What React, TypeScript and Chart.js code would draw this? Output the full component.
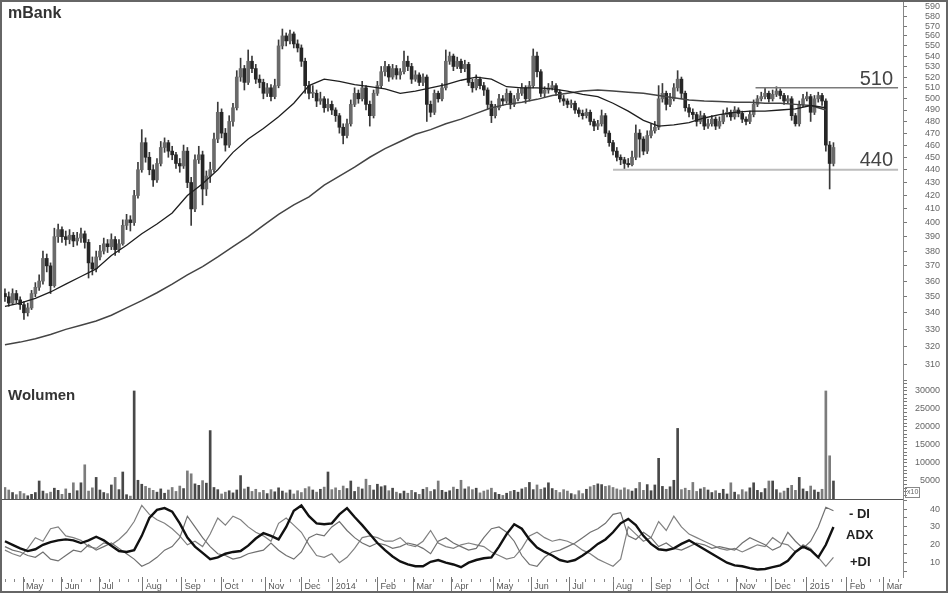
import React, { useEffect, useRef } from "react";
import { Chart, registerables } from "chart.js";

Chart.register(...registerables);

const FONT = '"Liberation Sans", Arial, Helvetica, sans-serif';
const TITLE = "mBank";
const VOLUME_TITLE = "Wolumen";

// daily index axis (trading days from late April 2013)
const X_MIN = -0.5;
const X_MAX = 472.6;
const BAR_STEP = 2; // one bar per two sessions
const MA_STEP = 8;
const DI_STEP = 4;

const monthTickIdx = [9.5, 30, 49.5, 72.5, 93, 114, 137, 156, 172.5, 196, 215, 235, 257, 277, 297, 320, 340.5, 361.5, 385, 403.5, 422, 443, 462.5];
const monthLabels = ["May", "Jun", "Jul", "Aug", "Sep", "Oct", "Nov", "Dec", "2014", "Feb", "Mar", "Apr", "May", "Jun", "Jul", "Aug", "Sep", "Oct", "Nov", "Dec", "2015", "Feb", "Mar"];

const priceTicks = [310, 320, 330, 340, 350, 360, 370, 380, 390, 400, 410, 420, 430, 440, 450, 460, 470, 480, 490, 500, 510, 520, 530, 540, 550, 560, 570, 580, 590];
const volumeTickLabels = [5000, 10000, 15000, 20000, 25000, 30000];
const diTickLabels = [10, 20, 30, 40];

const opens = [
  352, 350, 346, 352, 348, 345, 340, 343, 352, 356, 360, 375, 370, 357, 390, 395, 390, 388, 391, 387,
  389, 392, 386, 372, 368, 376, 380, 385, 383, 388, 381, 385, 398, 402, 400, 420, 440, 462, 450, 440,
  432, 445, 458, 462, 455, 452, 445, 443, 455, 430, 410, 448, 452, 425, 435, 440, 465, 488, 470, 460,
  480, 492, 520, 528, 515, 535, 528, 518, 515, 505, 510, 502, 512, 550, 560, 555, 562, 552, 548, 535,
  512, 505, 505, 498, 500, 492, 495, 490, 485, 475, 468, 478, 495, 505, 500, 510, 495, 485, 505, 512,
  525, 530, 520, 528, 522, 525, 535, 530, 518, 522, 515, 520, 495, 488, 505, 500, 510, 535, 540, 530,
  535, 528, 532, 515, 510, 518, 512, 508, 495, 485, 492, 500, 498, 505, 495, 500, 505, 510, 500, 512,
  540, 525, 505, 508, 510, 512, 506, 500, 498, 495, 496, 490, 487, 485, 488, 480, 476, 478, 485, 470,
  462, 455, 450, 448, 445, 444, 450, 470, 465, 455, 468, 472, 475, 500, 505, 495, 500, 510, 518, 505,
  492, 488, 486, 480, 485, 476, 478, 482, 476, 480, 486, 488, 484, 490, 487, 482, 480, 486, 495, 500,
  502, 505, 500, 504, 507, 503, 498, 500, 485, 478, 495, 500, 502, 488, 500, 503, 498, 460, 445,
];
const highs = [
  355, 353, 355, 354, 350, 347, 346, 354, 359, 364, 380, 378, 372, 396, 399, 397, 394, 395, 393, 393,
  396, 394, 388, 376, 380, 384, 389, 388, 392, 390, 388, 402, 406, 405, 424, 446, 473, 466, 454, 444,
  449, 463, 466, 464, 459, 454, 449, 460, 458, 434, 452, 459, 455, 439, 446, 470, 497, 491, 474, 485,
  496, 526, 538, 531, 546, 540, 532, 522, 518, 514, 513, 518, 556, 567, 563, 566, 564, 556, 551, 538,
  516, 512, 508, 506, 502, 500, 498, 492, 487, 478, 482, 499, 510, 508, 516, 512, 498, 508, 516, 530,
  535, 532, 532, 531, 528, 545, 540, 533, 526, 524, 523, 522, 498, 508, 507, 514, 546, 544, 542, 539,
  537, 536, 534, 518, 522, 520, 515, 510, 498, 495, 504, 503, 509, 507, 503, 509, 514, 512, 516, 547,
  544, 527, 511, 514, 516, 514, 508, 503, 500, 499, 498, 492, 490, 491, 490, 482, 481, 490, 487, 472,
  464, 458, 452, 450, 449, 455, 477, 473, 467, 472, 478, 480, 512, 514, 507, 505, 514, 526, 520, 507,
  495, 491, 488, 489, 487, 482, 485, 484, 484, 490, 492, 490, 493, 492, 489, 484, 489, 499, 503, 506,
  510, 507, 508, 511, 509, 505, 503, 502, 487, 498, 504, 506, 504, 503, 506, 505, 500, 463, 462,
];
const lows = [
  347, 344, 345, 346, 342, 336, 338, 342, 350, 354, 358, 366, 352, 356, 386, 386, 384, 385, 383, 384,
  386, 382, 362, 364, 366, 374, 378, 379, 381, 377, 379, 384, 395, 394, 398, 418, 438, 446, 436, 427,
  430, 443, 454, 450, 448, 441, 438, 441, 426, 398, 408, 445, 413, 420, 430, 438, 462, 466, 455, 458,
  476, 490, 516, 508, 513, 524, 514, 510, 500, 502, 498, 500, 510, 547, 550, 552, 548, 544, 530, 505,
  500, 501, 493, 495, 488, 489, 486, 480, 470, 461, 466, 476, 493, 496, 498, 490, 476, 483, 503, 510,
  521, 516, 518, 518, 518, 523, 526, 514, 516, 512, 512, 480, 484, 486, 497, 498, 508, 532, 526, 528,
  524, 525, 512, 506, 508, 509, 503, 491, 479, 483, 490, 494, 496, 491, 493, 498, 503, 496, 498, 510,
  520, 502, 501, 505, 508, 503, 497, 494, 492, 492, 487, 484, 482, 483, 477, 472, 473, 476, 467, 459,
  452, 447, 444, 441, 442, 443, 448, 450, 452, 453, 466, 470, 473, 497, 490, 493, 498, 507, 500, 489,
  484, 482, 476, 478, 473, 474, 476, 473, 474, 478, 484, 481, 482, 484, 479, 477, 478, 484, 493, 498,
  500, 497, 498, 502, 500, 495, 496, 481, 476, 476, 493, 498, 480, 486, 497, 494, 455, 425, 443,
];
const closes = [
  350, 346, 352, 348, 345, 340, 343, 352, 356, 360, 375, 370, 357, 390, 395, 390, 388, 391, 387, 389,
  392, 386, 372, 368, 376, 380, 385, 383, 388, 381, 385, 398, 402, 400, 420, 440, 462, 450, 440, 432,
  445, 458, 462, 455, 452, 445, 443, 455, 430, 410, 448, 452, 425, 435, 440, 465, 488, 470, 460, 480,
  492, 520, 528, 515, 535, 528, 518, 515, 505, 510, 502, 512, 550, 560, 555, 562, 552, 548, 535, 512,
  505, 505, 498, 500, 492, 495, 490, 485, 475, 468, 478, 495, 505, 500, 510, 495, 485, 505, 512, 525,
  530, 520, 528, 522, 525, 535, 530, 518, 522, 515, 520, 495, 488, 505, 500, 510, 535, 540, 530, 535,
  528, 532, 515, 510, 518, 512, 508, 495, 485, 492, 500, 498, 505, 495, 500, 505, 510, 500, 512, 540,
  525, 505, 508, 510, 512, 506, 500, 498, 495, 496, 490, 487, 485, 488, 480, 476, 478, 485, 470, 462,
  455, 450, 448, 445, 444, 450, 470, 465, 455, 468, 472, 475, 500, 505, 495, 500, 510, 518, 505, 492,
  488, 486, 480, 485, 476, 478, 482, 476, 480, 486, 488, 484, 490, 487, 482, 480, 486, 495, 500, 502,
  505, 500, 504, 507, 503, 498, 500, 485, 478, 495, 500, 502, 488, 500, 503, 498, 460, 445, 458,
];

const volumes = [
  3200, 2500, 1800, 1200, 2100, 1500, 900, 1300, 1800, 5000,
  2200, 1500, 1900, 3000, 2400, 1300, 2800, 1600, 4500, 2300,
  4500, 9500, 2200, 3100, 6000, 2500, 1800, 1500, 3900, 6000,
  2600, 7500, 1200, 800, 30000, 5200, 4100, 3500, 3000, 2400,
  1900, 2800, 1600, 2500, 3200, 2100, 3600, 2900, 7800, 7000,
  4200, 3800, 5100, 4400, 19000, 3200, 2600, 1400, 1900, 2300,
  1700, 2500, 6500, 2800, 3300, 2100, 2700, 1800, 2400, 1500,
  2600, 2000, 3100, 2200, 1700, 2500, 1400, 2300, 1800, 2900,
  3400, 2500, 1900, 2700, 3300, 7500, 2600, 3100, 2400, 3600,
  2900, 5000, 2100, 3300, 2800, 5500, 3800, 2500, 4100, 3400,
  3700, 2300, 3000, 1900, 1500, 2200, 1600, 2400, 1800, 1300,
  2700, 3200, 2100, 2600, 5000, 2400, 1900, 2300, 3300, 2700,
  5200, 2800, 3400, 2600, 3000, 1700, 2200, 2500, 3000, 1800,
  1300, 1000, 1600, 2100, 2400, 1900, 2800, 3200, 4600, 2600,
  3900, 2700, 3100, 4500, 2900, 2400, 1800, 2600, 2200, 1500,
  1200, 2300, 1500, 2700, 3400, 3800, 4200, 4000, 3500, 3700,
  3200, 2800, 2500, 3100, 2600, 2200, 2900, 4600, 2400, 4000,
  2300, 3900, 11300, 3500, 2700, 3400, 5200, 19600, 2600, 3000,
  2400, 4600, 2100, 2800, 3200, 2500, 1800, 2300, 1600, 2700,
  1400, 4500, 1900, 1200, 2600, 2000, 3100, 4500, 2400, 1800,
  2900, 5000, 5000, 2600, 1700, 2200, 3000, 3800, 2400, 6000,
  2800, 2100, 3600, 2500, 1900, 2700, 30000, 12000, 5000,
];

const ma50 = [
  344, 346, 349, 353, 358, 363, 368, 377, 384, 392, 399, 407, 420, 429, 440, 454, 465, 474, 484, 496,
  512, 518, 516, 513, 511, 509, 505, 507, 510, 513, 517, 520, 518, 511, 510, 510, 509, 507, 504, 502,
  496, 489, 481, 476, 477, 479, 483, 486, 488, 489, 489, 490, 491, 494, 492,
];
const ma200 = [
  321, 322.5, 324.5, 327, 330, 332.5, 335, 338.5, 343, 347.5, 352.5, 358, 364, 369.5, 376, 383, 390, 398, 406, 413,
  419, 428, 435, 442, 450, 457, 463, 469, 473, 478, 482, 487, 492, 495, 497, 499.5, 503, 505, 507, 508,
  507, 506, 505, 503, 501, 499, 498, 497.5, 497, 497, 496, 496, 495, 494, 490,
];

const adx = [
  22, 20, 18, 16.5, 17.5, 20, 21.5, 22.5, 23, 22.5,
  21, 22.5, 24.5, 22.5, 19.5, 16.5, 16, 17, 25, 35,
  39.5, 40.5, 38.5, 32, 24, 19, 15.5, 12, 13, 15,
  16, 16.5, 19.5, 23.5, 26.5, 25, 23, 30, 39, 42,
  36, 32, 31.5, 32, 37, 40.5, 35.5, 31, 26, 21,
  17, 13.5, 10.7, 9, 8, 8, 10.5, 11.5, 10, 9,
  7.5, 10, 11.5, 12.5, 13, 19, 26, 31.5, 29, 23,
  18.5, 16, 14, 11.5, 10.5, 11.5, 14, 17, 20.5, 23,
  27, 32, 34.5, 31, 25, 20.5, 17.5, 17, 18, 20.5,
  22.5, 20, 17.5, 15, 12.5, 10, 8.5, 8, 7, 6.2,
  6.5, 7.5, 8.5, 11, 16, 19, 17, 13, 20, 30,
];
const plusDI = [
  17, 15, 13.5, 18, 24, 22, 29, 30, 25, 24,
  22.5, 19, 18, 21, 20, 23, 27, 33, 42, 37,
  34, 32, 29, 25, 20, 22, 19, 26, 35, 31,
  36, 34, 30, 27, 25, 22, 32, 35, 31, 27,
  20, 14, 13, 15, 10, 13, 18, 24, 25, 24,
  22, 22, 24, 20, 19, 22, 28, 21, 19, 18,
  20, 21, 20, 19, 16, 14, 12, 13, 18, 25,
  27, 24, 22, 23, 22, 20, 17, 15, 12, 10,
  8, 12, 30, 26, 22, 24, 33, 28, 36, 30,
  26, 24, 22, 20, 18, 17, 18, 16, 18, 20,
  19, 24, 21, 20, 16, 20, 18, 13, 8, 13,
];
const minusDI = [
  19, 17, 16, 14, 13, 16, 12, 11, 14, 17,
  16, 20, 17, 19, 21, 18, 15, 12, 8, 10,
  13, 17, 19, 24, 36, 30, 24, 19, 15, 14,
  12, 13, 15, 16, 17, 21, 17, 14, 12, 16,
  24, 26, 25, 30, 33, 28, 24, 21, 19, 21,
  20, 18, 19, 21, 20, 18, 15, 22, 24, 21,
  19, 17, 18, 24, 29, 30, 27, 22, 14, 9,
  8, 13, 16, 17, 19, 21, 24, 27, 29, 32,
  37, 38, 25, 23, 27, 24, 19, 21, 18, 17,
  19, 21, 20, 18, 19, 18, 17, 21, 24, 22,
  20, 17, 19, 27, 22, 18, 22, 30, 41, 39,
];

const resistance = 510;
const support = 440;
const resistanceFrom = 395;
const supportFrom = 320;
const levelsTo = 470;

const AXIS_W = 37;
const PAD_RIGHT = 8;

function xAxis(display: boolean): any {
  return { type: "linear", min: X_MIN, max: X_MAX, display, offset: false, grid: { display: false } };
}

function rightAxis(extra: any): any {
  return {
    position: "right",
    bounds: "data",
    afterFit: (s: any) => {
      s.width = AXIS_W;
      s.paddingTop = 0;
      s.paddingBottom = 0;
    },
    grid: { drawOnChartArea: false, drawTicks: true, tickLength: 4, color: "#777" },
    border: { display: true, color: "#888", width: 1 },
    ...extra,
  };
}

const tickFont = { size: 9, family: FONT };

const baseOptions = (padding: any) => ({
  animation: false,
  responsive: false,
  devicePixelRatio: 1,
  events: [],
  layout: { padding },
  plugins: { legend: { display: false }, tooltip: { enabled: false } },
});

const priceText = {
  id: "priceText",
  afterDraw(chart: any) {
    const { ctx } = chart;
    const y = chart.scales.y;
    ctx.save();
    ctx.fillStyle = "#333";
    ctx.font = `bold 16px ${FONT}`;
    ctx.textAlign = "left";
    ctx.textBaseline = "top";
    ctx.fillText(TITLE, 8, 6);
    ctx.fillStyle = "#444";
    ctx.font = `20px ${FONT}`;
    ctx.textAlign = "right";
    ctx.textBaseline = "alphabetic";
    ctx.fillText(String(resistance), 893, y.getPixelForValue(resistance) - 3);
    ctx.fillText(String(support), 893, y.getPixelForValue(support) - 4);
    ctx.restore();
  },
};

const volumeText = {
  id: "volumeText",
  afterDraw(chart: any) {
    const { ctx, chartArea } = chart;
    ctx.save();
    ctx.fillStyle = "#333";
    ctx.font = `bold 15px ${FONT}`;
    ctx.textAlign = "left";
    ctx.textBaseline = "top";
    ctx.fillText(VOLUME_TITLE, 8, 10);
    ctx.strokeStyle = "#888";
    ctx.lineWidth = 1;
    ctx.strokeRect(chartArea.right + 2.5, chartArea.bottom - 11.5, 14, 10);
    ctx.fillStyle = "#666";
    ctx.font = `7px ${FONT}`;
    ctx.fillText("x10", chartArea.right + 4, chartArea.bottom - 10);
    ctx.restore();
  },
};

const diText = {
  id: "diText",
  afterDraw(chart: any) {
    const { ctx, chartArea } = chart;
    const xs = chart.scales.x;
    ctx.save();
    ctx.strokeStyle = "#555";
    ctx.lineWidth = 1;
    ctx.beginPath();
    ctx.moveTo(0, chartArea.top + 0.5);
    ctx.lineTo(chartArea.right, chartArea.top + 0.5);
    ctx.stroke();
    ctx.strokeStyle = "#888";
    ctx.beginPath();
    for (let i = 0; i <= X_MAX; i += 5) {
      const px = Math.round(xs.getPixelForValue(i)) + 0.5;
      ctx.moveTo(px, chartArea.bottom + 2);
      ctx.lineTo(px, chartArea.bottom + 5);
    }
    ctx.stroke();
    ctx.fillStyle = "#222";
    ctx.font = `bold 13px ${FONT}`;
    ctx.textAlign = "left";
    ctx.textBaseline = "middle";
    ctx.fillText("- DI", 849, 15);
    ctx.fillText("ADX", 846, 36);
    ctx.fillText("+DI", 850, 63);
    ctx.restore();
  },
};

function priceConfig(): any {
  const wick = highs.map((h, k) => ({ x: k * BAR_STEP, y: [lows[k], h] }));
  const body = closes.map((c, k) => ({ x: k * BAR_STEP, y: [Math.min(opens[k], c), Math.max(opens[k], c)] }));
  const bodyColors = closes.map((c, k) => (c >= opens[k] ? "#6a6a6a" : "#262626"));
  return {
    type: "bar",
    data: {
      datasets: [
        { type: "line", data: ma50.map((v, j) => ({ x: j * MA_STEP, y: v })), borderColor: "#1e1e1e", borderWidth: 1.3, pointRadius: 0, order: 0 },
        { type: "line", data: ma200.map((v, j) => ({ x: j * MA_STEP, y: v })), borderColor: "#444", borderWidth: 1.5, pointRadius: 0, order: 0 },
        { type: "line", data: [{ x: resistanceFrom, y: resistance }, { x: levelsTo, y: resistance }], borderColor: "#7a7a7a", borderWidth: 1.5, pointRadius: 0, order: 0 },
        { type: "line", data: [{ x: supportFrom, y: support }, { x: levelsTo, y: support }], borderColor: "#bdbdbd", borderWidth: 2, pointRadius: 0, order: 3 },
        { type: "bar", data: body, backgroundColor: bodyColors, barThickness: 3, grouped: false, minBarLength: 1, order: 1 },
        { type: "bar", data: wick, backgroundColor: "#3a3a3a", barThickness: 1, grouped: false, order: 2 },
      ],
    },
    options: {
      ...baseOptions({ left: 4, right: PAD_RIGHT, top: 2, bottom: 2 }),
      scales: {
        x: xAxis(false),
        y: rightAxis({
          type: "logarithmic",
          min: 302.3,
          max: 595.3,
          afterBuildTicks: (s: any) => {
            s.ticks = priceTicks.map((v) => ({ value: v }));
          },
          ticks: {
            autoSkip: false,
            font: tickFont,
            color: "#666",
            padding: 4,
            crossAlign: "far",
            callback: (v: any) => String(v),
          },
        }),
      },
    },
    plugins: [priceText],
  };
}

function volumeConfig(): any {
  const colors = closes.map((c, k) => (c >= opens[k] ? "#484848" : "#7c7c7c"));
  const minor: number[] = [];
  for (let v = 1000; v <= 33000; v += 1000) minor.push(v);
  return {
    type: "bar",
    data: {
      datasets: [
        { data: volumes.map((v, k) => ({ x: k * BAR_STEP, y: v })), backgroundColor: colors, barThickness: 2, grouped: false },
      ],
    },
    options: {
      ...baseOptions({ left: 4, right: PAD_RIGHT, top: 0, bottom: 0 }),
      scales: {
        x: xAxis(false),
        y: rightAxis({
          type: "linear",
          min: 0,
          max: 33600,
          afterBuildTicks: (s: any) => {
            s.ticks = minor.map((v) => ({ value: v }));
          },
          ticks: {
            autoSkip: false,
            font: tickFont,
            color: "#666",
            padding: 3,
            crossAlign: "far",
            callback: (v: any) => (volumeTickLabels.includes(v) ? String(v) : ""),
          },
        }),
      },
    },
    plugins: [volumeText],
  };
}

function diConfig(): any {
  const line = (arr: number[], color: string, width: number, order: number) => ({
    data: arr.map((v, j) => ({ x: j * DI_STEP, y: v })),
    borderColor: color,
    borderWidth: width,
    pointRadius: 0,
    tension: 0,
    order,
  });
  const diMinor = [5, 10, 15, 20, 25, 30, 35, 40, 45];
  return {
    type: "line",
    data: {
      datasets: [line(adx, "#111", 2.4, 0), line(minusDI, "#707070", 1.2, 1), line(plusDI, "#808080", 1.2, 2)],
    },
    options: {
      ...baseOptions({ left: 4, right: PAD_RIGHT, top: 0, bottom: 0 }),
      scales: {
        x: {
          type: "linear",
          min: X_MIN,
          max: X_MAX,
          position: "bottom",
          offset: false,
          afterBuildTicks: (s: any) => {
            s.ticks = monthTickIdx.map((v) => ({ value: v }));
          },
          afterFit: (s: any) => {
            s.height = 16;
            s.paddingLeft = 0;
            s.paddingRight = 0;
          },
          ticks: {
            autoSkip: false,
            maxRotation: 0,
            minRotation: 0,
            align: "start",
            labelOffset: 3,
            padding: -10,
            font: tickFont,
            color: "#555",
            callback: (_v: any, i: number) => monthLabels[i],
          },
          grid: { drawOnChartArea: false, drawTicks: true, tickLength: 14, color: "#777" },
          border: { display: false },
        },
        y: rightAxis({
          type: "linear",
          min: 2,
          max: 45.6,
          afterBuildTicks: (s: any) => {
            s.ticks = diMinor.map((v) => ({ value: v }));
          },
          ticks: {
            autoSkip: false,
            font: tickFont,
            color: "#666",
            padding: 4,
            crossAlign: "far",
            callback: (v: any) => (diTickLabels.includes(v) ? String(v) : ""),
          },
        }),
      },
    },
    plugins: [diText],
  };
}

export default function App() {
  const priceRef = useRef<HTMLCanvasElement>(null);
  const volRef = useRef<HTMLCanvasElement>(null);
  const diRef = useRef<HTMLCanvasElement>(null);

  useEffect(() => {
    const charts = [
      new Chart(priceRef.current as HTMLCanvasElement, priceConfig()),
      new Chart(volRef.current as HTMLCanvasElement, volumeConfig()),
      new Chart(diRef.current as HTMLCanvasElement, diConfig()),
    ];
    return () => charts.forEach((c) => c.destroy());
  }, []);

  return (
    <div style={{ position: "fixed", left: 0, top: 0, width: 948, height: 593, background: "#fff", overflow: "hidden" }}>
      <canvas ref={priceRef} width={948} height={380} style={{ position: "absolute", left: 0, top: 0 }} />
      <canvas ref={volRef} width={948} height={121} style={{ position: "absolute", left: 0, top: 378 }} />
      <canvas ref={diRef} width={948} height={94} style={{ position: "absolute", left: 0, top: 499 }} />
      <div
        style={{
          position: "absolute",
          left: 0,
          top: 0,
          width: 948,
          height: 593,
          border: "2px solid #666",
          boxSizing: "border-box",
          pointerEvents: "none",
        }}
      />
    </div>
  );
}
